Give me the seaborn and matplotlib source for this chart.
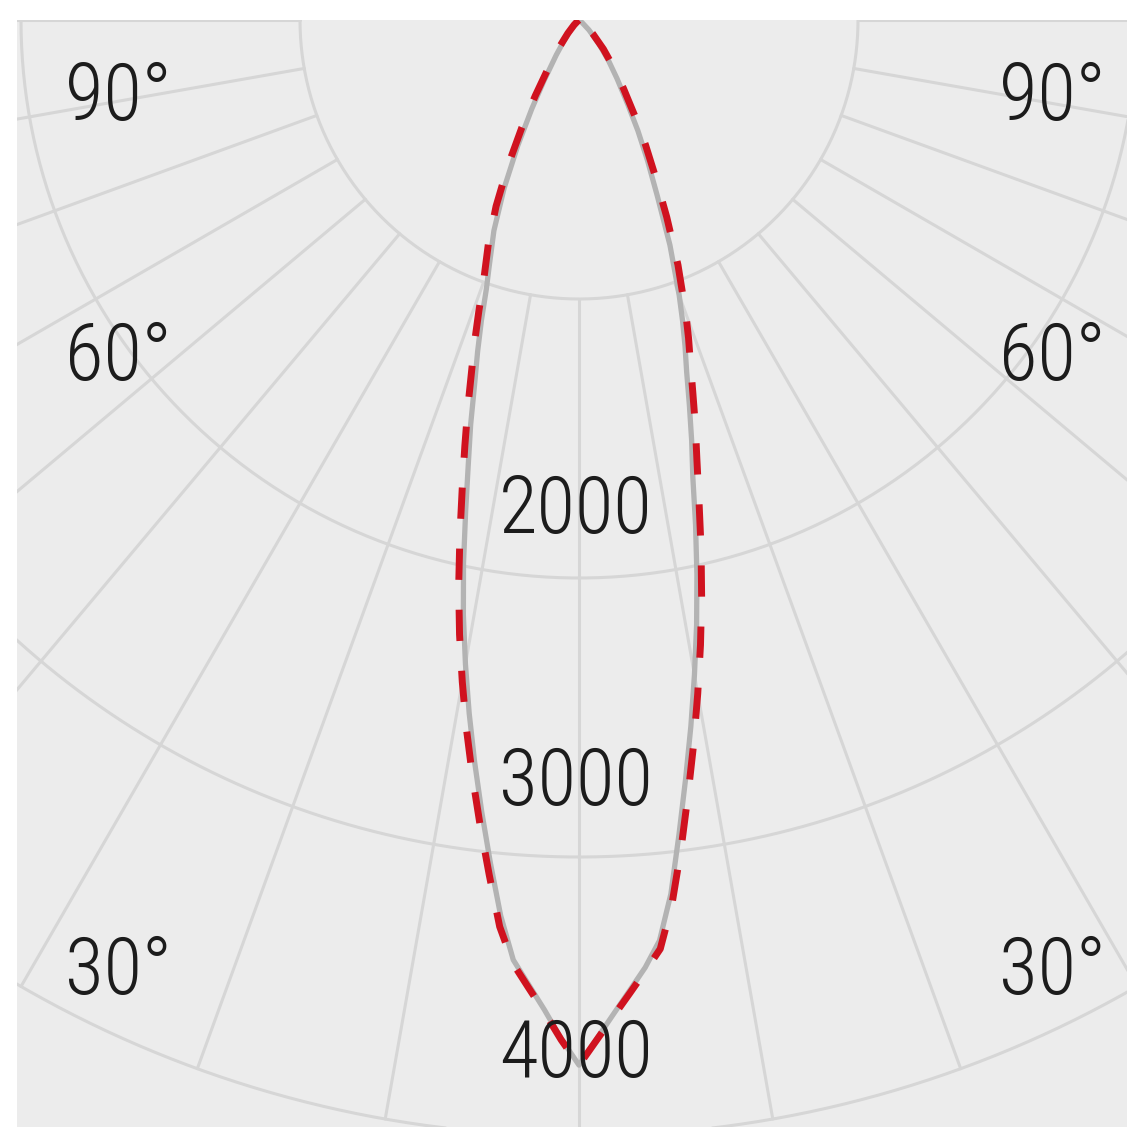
import numpy as np
import pandas as pd
import matplotlib
matplotlib.use("Agg")
import matplotlib.pyplot as plt
from matplotlib import font_manager
import seaborn as sns


# LIGHT DISTRIBUTION DATA (cd), angle measured from nadir in degrees
angles = [0, 1, 2, 3, 4, 5, 6, 7, 8, 9, 10, 11, 12, 13, 14, 15, 16, 17, 18, 19,
          20, 22, 24, 26, 28, 30, 33, 36, 40, 45, 50, 55]

# C0-C180 plane (grey, solid)
gray_left = [3746, 3652, 3550, 3461, 3377, 3222, 3038, 2860, 2687, 2516, 2344,
             2172, 1991, 1806, 1640, 1500, 1357, 1243, 1132, 1020, 942, 814,
             660, 500, 360, 250, 150, 90, 45, 15, 0, 0]
gray_right = [3746, 3652, 3564, 3482, 3404, 3312, 3150, 2941, 2746, 2563, 2383,
              2209, 2033, 1857, 1686, 1560, 1435, 1320, 1230, 1140, 1050, 870,
              690, 560, 450, 350, 250, 180, 110, 50, 15, 0]

# C90-C270 plane (red, dashed)
red_left = [3746, 3656, 3558, 3472, 3390, 3262, 3080, 2908, 2741, 2576, 2409,
            2244, 2074, 1898, 1730, 1581, 1446, 1317, 1209, 1102, 1002, 868,
            731, 580, 436, 313, 193, 118, 62, 25, 6, 0]
red_right = [3746, 3656, 3571, 3492, 3416, 3342, 3187, 2997, 2806, 2627, 2451,
             2282, 2114, 1945, 1778, 1633, 1513, 1395, 1292, 1206, 1119, 947,
             773, 625, 509, 408, 293, 213, 136, 70, 28, 6]

rings = [1000, 2000, 3000, 4000]
ring_labels = ["2000", "3000", "4000"]
spokes = [-90, -80, -70, -60, -50, -40, -30, -20, -10, 0,
          10, 20, 30, 40, 50, 60, 70, 80, 90]
angle_labels = ["90°", "60°", "30°"]


def to_xy(ang, left, right):
    # left half gets negative x, run from outer angle down to nadir and up again
    a = np.radians(np.array(ang, dtype=float))
    l = np.array(left, dtype=float)
    r = np.array(right, dtype=float)
    x = np.concatenate([-(l * np.sin(a))[::-1], (r * np.sin(a))[1:]])
    y = np.concatenate([-(l * np.cos(a))[::-1], -(r * np.cos(a))[1:]])
    return pd.DataFrame({"x": x, "y": y})


def pick_font():
    # condensed face if there is one, else a plain one at a smaller size
    for name, size in [("Roboto Condensed", 57), ("Liberation Sans Narrow", 60),
                       ("Open Sans Condensed", 58), ("Roboto", 51)]:
        try:
            font_manager.findfont(font_manager.FontProperties(family=name),
                                  fallback_to_default=False)
            return name, size
        except ValueError:
            pass
    return "DejaVu Sans", 47


df_gray = to_xy(angles, gray_left, gray_right)
df_red = to_xy(angles, red_left, red_right)


# FIGURE
sns.set_theme(style="white")
font_name, fs = pick_font()
plt.rcParams["font.family"] = [font_name, "DejaVu Sans"]

W = 1127
k = 1000 / 279.0  # cd per pixel
cx = 579          # centre pixel x
top = 20          # centre pixel y

fig = plt.figure(figsize=(W / 100, W / 100), dpi=100, facecolor="white")
ax = fig.add_axes([17 / W, 0, (W - 17) / W, (W - top) / W])
ax.set_facecolor("#ececec")
ax.set_xlim((17 - cx) * k, (W - cx) * k)
ax.set_ylim(-(W - top) * k, 0)
ax.set_aspect("equal")
ax.axis("off")
ax.add_patch(plt.Rectangle((0, 0), 1, 1, transform=ax.transAxes,
                           color="#ececec", zorder=0))

grid_col = "#d6d6d6"
t = np.radians(np.linspace(-90, 90, 400))
for r in rings:
    ax.plot(r * np.sin(t), -r * np.cos(t), color=grid_col, lw=2.2, zorder=1)
for s in spokes:
    a = np.radians(s)
    ax.plot([rings[0] * np.sin(a), rings[-1] * np.sin(a)],
            [-rings[0] * np.cos(a), -rings[-1] * np.cos(a)],
            color=grid_col, lw=2.2, zorder=1)

sns.lineplot(data=df_gray, x="x", y="y", sort=False, estimator=None,
             color="#b3b3b3", lw=3.8, ax=ax, zorder=3)
sns.lineplot(data=df_red, x="x", y="y", sort=False, estimator=None,
             color="#d0121f", lw=5, linestyle=(0, (4.5, 4.3)), ax=ax, zorder=4)

txt_col = "#1c1c1c"
# ring values sit on the centre line just above each ring
for lab, base_px in zip(ring_labels, [533, 805, 1077]):
    ax.text((576 - cx) * k, -(base_px - top) * k, lab, ha="center",
            va="baseline", fontsize=fs, color=txt_col, fontweight="light",
            zorder=5)

for lab, base_px in zip(angle_labels, [120, 380, 994]):
    ax.text((65 - cx) * k, -(base_px - top) * k, lab, ha="left",
            va="baseline", fontsize=fs, color=txt_col, fontweight="light",
            zorder=5)
    ax.text((1106 - cx) * k, -(base_px - top) * k, lab, ha="right",
            va="baseline", fontsize=fs, color=txt_col, fontweight="light",
            zorder=5)

plt.savefig("out.png", dpi=100, facecolor="white")
